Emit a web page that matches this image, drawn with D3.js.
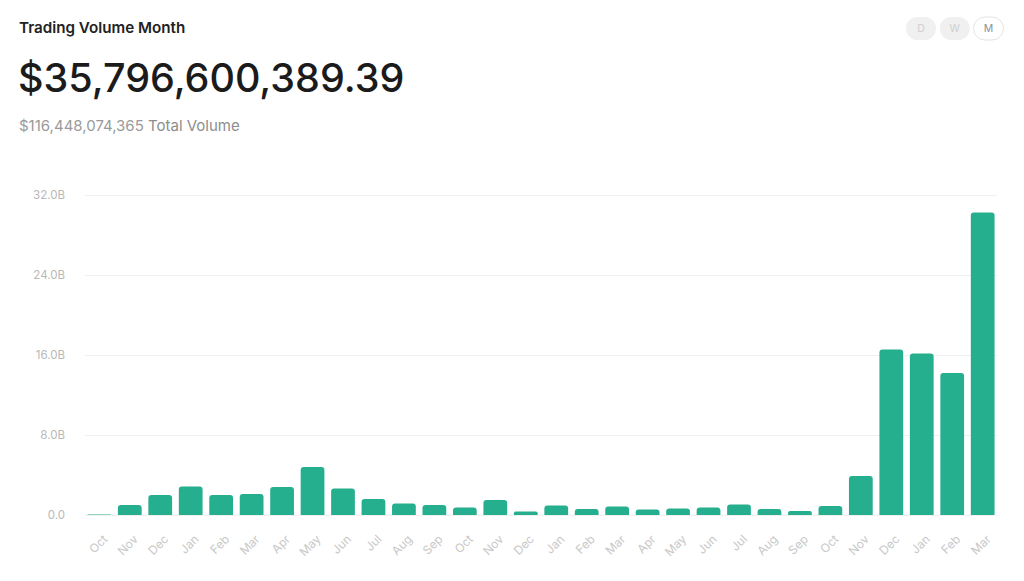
<!DOCTYPE html>
<html><head><meta charset="utf-8">
<script src="https://cdn.jsdelivr.net/npm/d3@7"></script>
<style>
html,body{margin:0;padding:0;background:#fff;}
svg{display:block;font-family:Inter,"Noto Sans",sans-serif;}
</style></head>
<body>
<svg id="c" width="1024" height="581"></svg>
<script>
const months = ["Oct","Nov","Dec","Jan","Feb","Mar","Apr","May","Jun","Jul","Aug","Sep","Oct","Nov","Dec","Jan","Feb","Mar","Apr","May","Jun","Jul","Aug","Sep","Oct","Nov","Dec","Jan","Feb","Mar"];
const volumesB = [0.05,1.0,2.0,2.85,2.0,2.1,2.8,4.8,2.65,1.6,1.15,1.0,0.75,1.5,0.35,0.95,0.6,0.85,0.55,0.65,0.75,1.05,0.6,0.4,0.9,3.9,16.55,16.15,14.2,30.25];
const yTicks = [0,8,16,24,32];
const yTickLabels = ["0.0","8.0B","16.0B","24.0B","32.0B"];
const title = "Trading Volume Month";
const headline = "$35,796,600,389.39";
const totalLine = ["$116,448,074,365"," Total Volume"];
const periods = ["D","W","M"];
const activePeriod = "M";

const svg = d3.select("#c");
const idx = months.map((m,i)=>i);
const x = d3.scaleBand().domain(idx).range([85,997]).paddingInner(0.22).paddingOuter(0.08);
const y = d3.scaleLinear().domain([0,32]).range([515,195]);

// header
svg.append("text").attr("x",19).attr("y",33).attr("font-size",15.2).attr("font-weight",600).attr("fill","#222").text(title);
svg.append("text").attr("x",18).attr("y",92).attr("font-size",39.5).attr("font-weight",500).attr("fill","#1b1b1b").text(headline);
const sub = svg.append("text").attr("x",19).attr("y",131).attr("font-size",15).attr("fill","#9a9a9a");
sub.append("tspan").text(totalLine[0]);
sub.append("tspan").attr("fill","#8d8d8d").text(totalLine[1]);

// period buttons
const bx = d3.scalePoint().domain(periods).range([921,988.5]);
periods.forEach(p=>{
  const g = svg.append("g").attr("transform",`translate(${bx(p)},28.5)`);
  const act = p===activePeriod;
  g.append("rect").attr("x",-15).attr("y",-11.5).attr("width",30).attr("height",23).attr("rx",11.5)
    .attr("fill",act?"#fff":"#f0f0f0").attr("stroke",act?"#e4e4e4":"none");
  g.append("text").attr("text-anchor","middle").attr("dy","0.35em").attr("font-size",10.5)
    .attr("fill",act?"#8a8f9c":"#cfcfcf").text(p);
});

// grid
svg.append("g").selectAll("line").data(yTicks).join("line")
  .attr("x1",85).attr("x2",997).attr("y1",d=>y(d)+0.5).attr("y2",d=>y(d)+0.5)
  .attr("stroke","#f0f0f0").attr("stroke-width",1);

// y axis
const yAxis = d3.axisLeft(y).tickValues(yTicks).tickFormat((d,i)=>yTickLabels[i]).tickSize(0).tickPadding(0);
const ya = svg.append("g").attr("transform","translate(65,0)").call(yAxis);
ya.select(".domain").remove();
ya.selectAll("text").attr("font-size",11.5).attr("fill","#b8b8b8").attr("font-family","Inter,'Noto Sans',sans-serif");

// bars
const r = 3;
svg.append("g").selectAll("path").data(volumesB).join("path")
  .attr("fill","#26af8e")
  .attr("d",(d,i)=>{
    const x0 = x(i), w = x.bandwidth(), y0 = y(d), b = y(0);
    const h = b - y0;
    const rr = Math.min(r, h/2, w/2);
    return `M${x0},${b}V${y0+rr}Q${x0},${y0} ${x0+rr},${y0}H${x0+w-rr}Q${x0+w},${y0} ${x0+w},${y0+rr}V${b}Z`;
  });

// x axis
const xAxis = d3.axisBottom(x).tickFormat(i=>months[i]).tickSize(0).tickPadding(0);
const xa = svg.append("g").attr("transform","translate(0,532)").call(xAxis);
xa.select(".domain").remove();
xa.selectAll("text").attr("font-size",12).attr("fill","#c8c8c8").attr("font-family","Inter,'Noto Sans',sans-serif")
  .attr("text-anchor","end").attr("dy","0.7em").attr("transform","translate(3,2) rotate(-45)");
</script>
</body></html>
